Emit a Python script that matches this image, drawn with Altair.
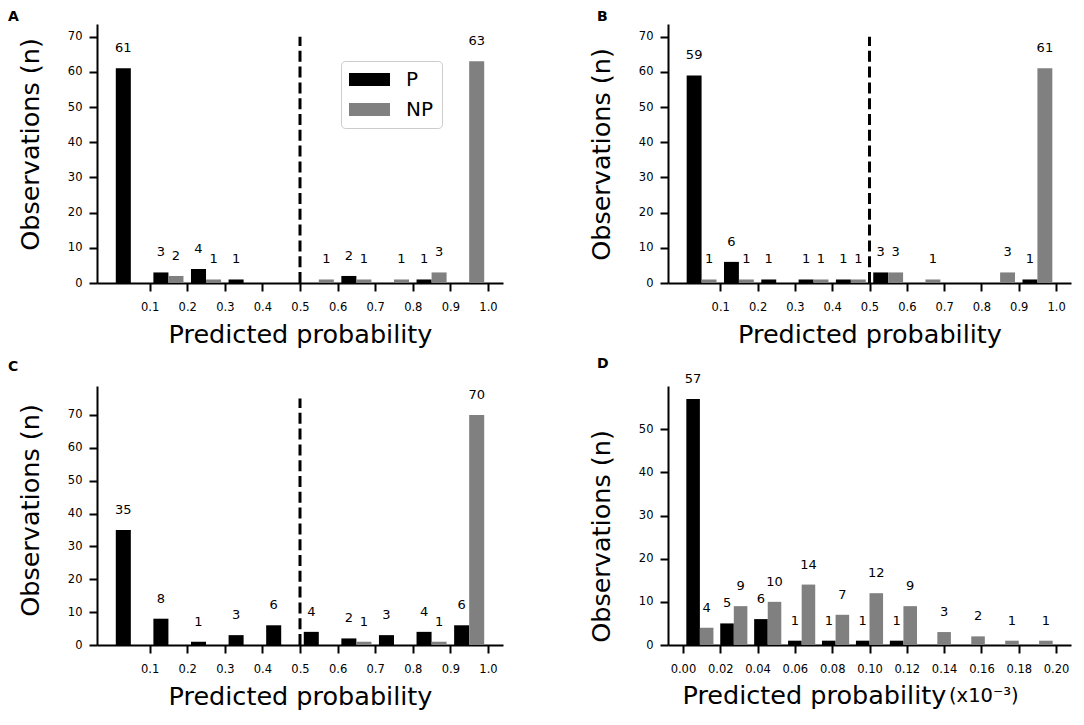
import altair as alt
import pandas as pd

# ---------------- data ----------------
SERIES = ["P", "NP"]
COLORS = ["#000000", "#808080"]

# histogram bin starts (A, B, C share 10 bins on 0..1; D has 11 bins on 0..0.2)
BINS_ABC = [0.0, 0.1, 0.2, 0.3, 0.4, 0.5, 0.6, 0.7, 0.8, 0.9]
BIN_W_ABC = 0.1
BINS_D = [0.0, 0.01818, 0.03636, 0.05455, 0.07273, 0.09091,
          0.10909, 0.12727, 0.14545, 0.16364, 0.18182]
BIN_W_D = 0.01818

A_P = [61, 3, 4, 1, 0, 0, 2, 0, 1, 0]
A_NP = [0, 2, 1, 0, 0, 1, 1, 1, 3, 63]
B_P = [59, 6, 1, 1, 1, 3, 0, 0, 0, 1]
B_NP = [1, 1, 0, 1, 1, 3, 1, 0, 3, 61]
C_P = [35, 8, 1, 3, 6, 4, 2, 3, 4, 6]
C_NP = [0, 0, 0, 0, 0, 0, 1, 0, 1, 70]
D_P = [57, 5, 6, 1, 1, 1, 1, 0, 0, 0, 0]
D_NP = [4, 9, 10, 14, 7, 12, 9, 3, 2, 1, 1]

THRESHOLD = 0.5
X_TICKS_ABC = [0.1, 0.2, 0.3, 0.4, 0.5, 0.6, 0.7, 0.8, 0.9, 1.0]
X_TICKS_D = [0.0, 0.02, 0.04, 0.06, 0.08, 0.10, 0.12, 0.14, 0.16, 0.18, 0.20]
Y_TICKS_ABC = [0, 10, 20, 30, 40, 50, 60, 70]
Y_TICKS_D = [0, 10, 20, 30, 40, 50]

X_TITLE = "Predicted probability"
X_UNIT_D = "(x10\u207b\u00b3)"
Y_TITLE = "Observations (n)"

FONT = "DejaVu Sans"


def bars_frame(bins, w, p_vals, np_vals):
    rows = []
    for b, vp, vn in zip(bins, p_vals, np_vals):
        for s, v, off in (("P", vp, 0.1), ("NP", vn, 0.5)):
            if v > 0:
                rows.append({"series": s, "x": b + off * w,
                             "x2": b + (off + 0.4) * w,
                             "xc": b + (off + 0.2) * w, "n": v})
    return pd.DataFrame(rows)


def panel(letter, bins, w, p_vals, np_vals, xdom, xticks, xfmt,
          ydom, yticks, dash_top, legend, width, height, tdx, toff,
          ytitle_y, unit=None):
    df = bars_frame(bins, w, p_vals, np_vals)
    xscale = alt.Scale(domain=xdom, nice=False, zero=False)
    yscale = alt.Scale(domain=ydom, nice=False)
    if unit is None:
        xaxis = alt.Axis(values=xticks, format=xfmt, labelFlush=False,
                         labelPadding=10, title=X_TITLE, titlePadding=10)
    else:
        xaxis = alt.Axis(values=xticks, format=xfmt, labelFlush=False,
                         labelPadding=10, title=X_TITLE, titleX=14,
                         titleY=58, titleAlign="left", titleAnchor="start",
                         titleBaseline="alphabetic")
    yaxis = alt.Axis(values=yticks, title=Y_TITLE, titlePadding=24,
                     titleY=ytitle_y)
    if legend:
        leg = alt.Legend(orient="none", legendX=244, legendY=37, title=None,
                         symbolType="M-1,-0.32H1V0.32H-1Z", symbolSize=1681,
                         symbolStrokeWidth=0, clipHeight=21,
                         labelFontSize=20, labelFont=FONT, labelColor="black",
                         labelOffset=16, padding=8, rowPadding=9,
                         strokeColor="#cccccc", cornerRadius=4,
                         fillColor="white")
    else:
        leg = None
    bars = alt.Chart(df).mark_rect().encode(
        x=alt.X("x:Q", scale=xscale, axis=xaxis),
        x2="x2:Q",
        y=alt.Y("n:Q", scale=yscale, axis=yaxis),
        y2=alt.datum(0),
        fill=alt.Fill("series:N", scale=alt.Scale(domain=SERIES, range=COLORS),
                      legend=leg, sort=SERIES),
    )
    labels = alt.Chart(df).mark_text(dy=-20, fontSize=13, font=FONT,
                                     color="black", baseline="middle",
                                     align="center").encode(
        x=alt.X("xc:Q", scale=xscale, axis=xaxis),
        y=alt.Y("n:Q", scale=yscale, axis=yaxis),
        text="n:Q")
    layers = [bars, labels]
    if dash_top is not None:
        rule_df = pd.DataFrame({"x": [THRESHOLD], "y": [0], "y2": [dash_top]})
        rule = alt.Chart(rule_df).mark_rule(color="black", strokeWidth=3,
                                           strokeDash=[11, 4.8]).encode(
            x=alt.X("x:Q", scale=xscale, axis=xaxis),
            y=alt.Y("y:Q", scale=yscale, axis=yaxis),
            y2="y2:Q")
        layers.append(rule)
    if unit is not None:
        unit_df = pd.DataFrame({"t": [unit]})
        unit_txt = alt.Chart(unit_df).mark_text(
            align="left", baseline="alphabetic", fontSize=19.5, font=FONT,
            color="black").encode(
            x=alt.value(281), y=alt.value(316), text="t:N")
        layers.append(unit_txt)
    return alt.layer(*layers).properties(
        width=width, height=height,
        title=alt.TitleParams(text=letter, anchor="start", frame="group",
                              dx=tdx, offset=toff, fontSize=14,
                              fontWeight="bold", font=FONT, color="black"),
    )


XDOM = [-0.04, 1.04]
XDOM_D = [-0.008, 0.208]

pa = panel("A", BINS_ABC, BIN_W_ABC, A_P, A_NP, XDOM, X_TICKS_ABC, ".1f",
           [0, 73.6], Y_TICKS_ABC, 70, True, 406, 259, -89, 0, 120)
pb = panel("B", BINS_ABC, BIN_W_ABC, B_P, B_NP, XDOM, X_TICKS_ABC, ".1f",
           [0, 73.6], Y_TICKS_ABC, 70, False, 403, 259, -71, 0, 130)
pc = panel("C", BINS_ABC, BIN_W_ABC, C_P, C_NP, XDOM, X_TICKS_ABC, ".1f",
           [0, 78.8], Y_TICKS_ABC, 75, False, 406, 259, -89, 12, 124)
pd_ = panel("D", BINS_D, BIN_W_D, D_P, D_NP, XDOM_D, X_TICKS_D, ".2f",
            [0, 60], Y_TICKS_D, None, False, 403, 259, -71, 2, 150,
            unit=X_UNIT_D)

chart = alt.concat(pa, pb, pc, pd_, columns=2,
                   spacing={"row": 103, "column": 165}, bounds="flush"
                   ).resolve_scale(fill="independent").properties(
    padding={"left": 0, "top": 2, "right": 5, "bottom": 5}
).configure_view(stroke=None).configure_axis(
    domainColor="black", domainWidth=2, tickColor="black", tickWidth=2,
    tickSize=8, labelFont=FONT, labelFontSize=11.5, labelColor="black",
    labelPadding=7, titleFont=FONT, titleFontSize=25.5,
    titleFontWeight="normal", titleColor="black", grid=False,
)

chart.save("out.html", embed_options={"renderer": "svg", "actions": False})
